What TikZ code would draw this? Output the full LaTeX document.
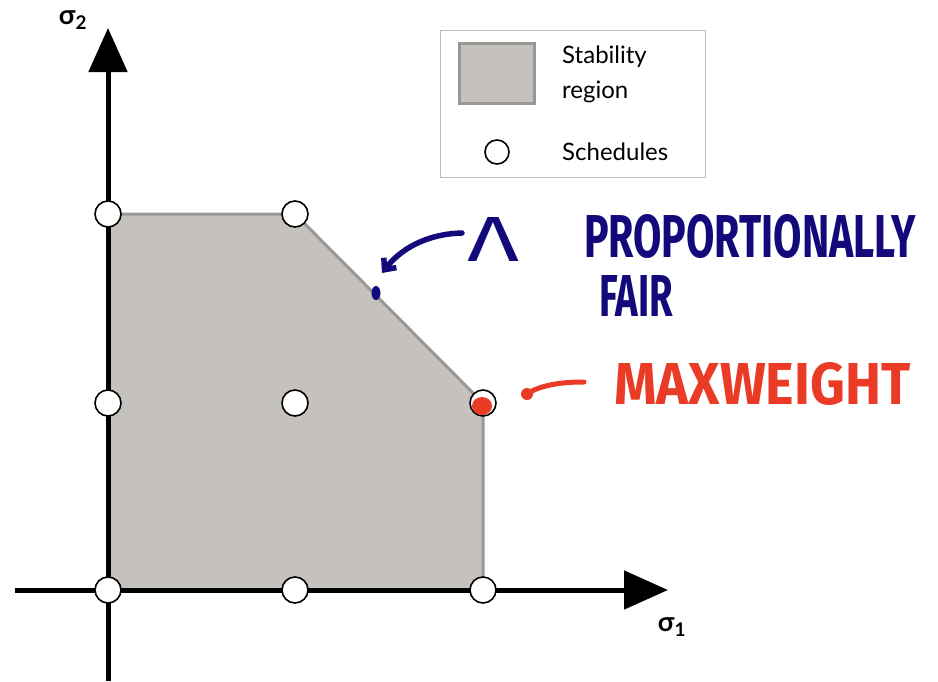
\documentclass[tikz,border=0pt]{standalone}
\usepackage{fontspec}
\setmainfont{Lato}
\newfontfamily\hand{Fira Sans}
\usetikzlibrary{arrows.meta}
\definecolor{regionfill}{HTML}{C5C1BD}
\definecolor{regionedge}{HTML}{9A9896}
\definecolor{ink}{HTML}{14097A}
\definecolor{redink}{HTML}{EA3B26}
\definecolor{legendedge}{HTML}{BDBDBD}
\tikzset{
  sched/.style={circle, draw=black, fill=white, line width=1.6pt, minimum size=26pt, inner sep=0pt},
  axisline/.style={line width=5pt, -{Triangle[length=44pt,width=38pt]}},
  regionstyle/.style={fill=regionfill, draw=regionedge, line width=3pt, line join=miter},
  legtext/.style={anchor=west, font=\fontsize{24}{28}\selectfont, inner sep=0pt},
  axlabel/.style={font=\fontsize{27}{30}\selectfont\bfseries, inner sep=0pt},
  bluehand/.style={text=ink, inner sep=0pt},
  redhand/.style={text=redink, inner sep=0pt},
}
\begin{document}
\begin{tikzpicture}[x=1pt,y=-1pt]
\useasboundingbox (0,0) rectangle (938,681);
% stability region
\draw[regionstyle] (108,590) -- (108,214) -- (295,214) -- (483,403) -- (483,590) -- cycle;
% axes
\coordinate (ybot) at (108,681);
\coordinate (ytop) at (108,28);
\coordinate (xleft) at (15,590);
\coordinate (xright) at (668,590);
\draw[axisline] (ybot) -- (ytop);
\draw[axisline] (xleft) -- (xright);
\node[axlabel] (s2) at (73,20) {σ\textsubscript{2}};
\node[axlabel] (s1) at (672,627) {σ\textsubscript{1}};
% schedules
\node[sched] (p00) at (108,590) {};
\node[sched] (p10) at (295,590) {};
\node[sched] (p20) at (483,590) {};
\node[sched] (p01) at (108,403) {};
\node[sched] (p11) at (295,403) {};
\node[sched] (p21) at (483,403) {};
\node[sched] (p02) at (108,214) {};
\node[sched] (p12) at (295,214) {};
% legend
\node[draw=legendedge, line width=1pt, minimum width=265pt, minimum height=147pt, inner sep=0pt] (legend) at (572.5,103.5) {};
\draw[regionstyle] (459,43) rectangle (534,103);
\node[legtext] (lstab) at (562,57) {Stability};
\node[legtext] (lreg) at (562,92) {region};
\node[sched, minimum size=24pt] (lsched) at (497,152) {};
\node[legtext] (lschedt) at (562,152) {Schedules};
% blue annotation
\fill[ink] (376,293) ellipse [x radius=4.5, y radius=7];
\node[bluehand] (lam) at (494,239) {\resizebox{52pt}{44pt}{\hand Λ}};
\coordinate (bstart) at (462,233);
\coordinate (bend) at (382,273);
\draw[ink, line width=5.5pt, line cap=round, -{Straight Barb[length=9pt,width=16pt]}] (bstart) .. controls (425,234) and (400,250) .. (bend);
\node[bluehand, anchor=west] (pf1) at (584,237) {\resizebox{332pt}{43pt}{\hand\bfseries PROPORTIONALLY}};
\node[bluehand, anchor=west] (pf2) at (599,296) {\resizebox{74pt}{41pt}{\hand\bfseries FAIR}};
% red annotation
\fill[redink] (482,406) ellipse [x radius=10, y radius=9];
\fill[redink] (527,394) circle (6);
\coordinate (rstart) at (530,392);
\coordinate (rend) at (584,382);
\draw[redink, line width=5pt, line cap=round] (rstart) .. controls (545,384) and (565,382) .. (rend);
\node[redhand, anchor=west] (mw) at (614,384) {\resizebox{296pt}{42pt}{\hand\bfseries MAXWEIGHT}};
\end{tikzpicture}
\end{document}
